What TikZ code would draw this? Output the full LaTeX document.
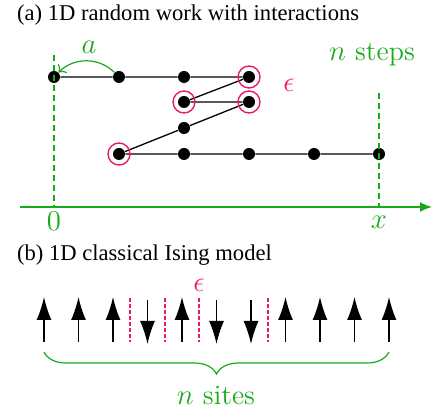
\documentclass[tikz,border=0pt]{standalone}
\usepackage{fontspec}
\newfontfamily\capfont{Liberation Serif}
\usetikzlibrary{arrows.meta,decorations.pathreplacing}
\definecolor{walkgreen}{RGB}{25,170,25}
\definecolor{epspink}{RGB}{235,25,110}
\tikzset{
  site/.style={circle,fill=black,inner sep=0pt,minimum size=6pt},
  ring/.style={circle,draw=epspink,line width=0.7pt,inner sep=0pt,minimum size=11pt},
  walk/.style={line width=0.65pt},
  guide/.style={walkgreen,line width=0.7pt,dash pattern=on 3pt off 2pt},
  wall/.style={epspink,line width=1.1pt,dash pattern=on 2pt off 1pt},
  spin/.style={line width=0.7pt,-{Latex[length=11.5pt,width=7.5pt]}},
  caption/.style={anchor=west,font=\capfont\fontsize{11.3}{13}\selectfont},
}
\begin{document}
\begin{tikzpicture}[x=0.5pt,y=0.5pt,font=\fontsize{14}{17}\selectfont]
\useasboundingbox (0,0) rectangle (432,411);
\pgfmathsetmacro{\dx}{65}
\pgfmathsetmacro{\ds}{34.5}
%(a) walk
\node[caption] (capa) at (10,396) {(a) 1D random work with interactions};
\foreach \i in {1,...,4}
  \node[site] (t\i) at ({54+(\i-1)*\dx},334) {};
\node[site] (m1) at (184,309) {};
\node[site] (m2) at (249,309) {};
\node[site] (c) at (184,283) {};
\foreach \i in {1,...,5}
  \node[site] (b\i) at ({119+(\i-1)*\dx},257) {};
\draw[walk] (t1)--(t2)--(t3)--(t4)--(m1)--(m2)--(c)--(b1)--(b2)--(b3)--(b4)--(b5);
\node[ring] (r1) at (t4) {};
\node[ring] (r2) at (m1) {};
\node[ring] (r3) at (m2) {};
\node[ring] (r4) at (b1) {};
\node[text=epspink] (eps) at (289,326) {$\epsilon$};
%axis
\coordinate (xl) at (20,204);
\coordinate (xr) at (432,204);
\draw[walkgreen,line width=0.8pt,-{Latex[length=6pt,width=5pt]}] (xl)--(xr);
\coordinate (o) at (54,204);
\coordinate (xe) at (379,204);
\coordinate (otop) at (54,356);
\coordinate (xtop) at (379,318);
\draw[guide] (otop)--(o);
\draw[guide] (xtop)--(xe);
\node[text=walkgreen,below=-1pt] (zero) at (o) {$0$};
\node[text=walkgreen,below=1pt] (xlab) at (xe) {$x$};
\node[text=walkgreen] (nsteps) at (372,356) {$n$ steps};
\draw[walkgreen,line width=0.6pt,-{To[length=3pt]}] (t2.north west) to[bend right=45] (t1.north east);
\node[text=walkgreen] (alab) at (89,364) {$a$};
%(b) Ising
\node[caption] (capb) at (10,156) {(b) 1D classical Ising model};
\foreach \i/\s in {0/1,1/1,2/1,3/0,4/1,5/0,6/0,7/1,8/1,9/1,10/1}{
  \coordinate (s\i) at ({44+\i*\ds},90);
  \ifnum\s=1
    \draw[spin] ([shift={(0,-21)}]s\i)--([shift={(0,24)}]s\i);
  \else
    \draw[spin] ([shift={(0,21)}]s\i)--([shift={(0,-23)}]s\i);
  \fi
}
\foreach \w in {2,3,4,6}
  \draw[wall] ([shift={(\ds/2,23)}]s\w)--([shift={(\ds/2,-21)}]s\w);
\node[text=epspink] (epsb) at (199,126) {$\epsilon$};
\draw[walkgreen,line width=0.6pt,decorate,decoration={brace,mirror,amplitude=11pt}]
  ([shift={(0,-31)}]s0)--([shift={(0,-31)}]s10);
\node[text=walkgreen] (nsites) at (216,16) {$n$ sites};
\end{tikzpicture}
\end{document}
